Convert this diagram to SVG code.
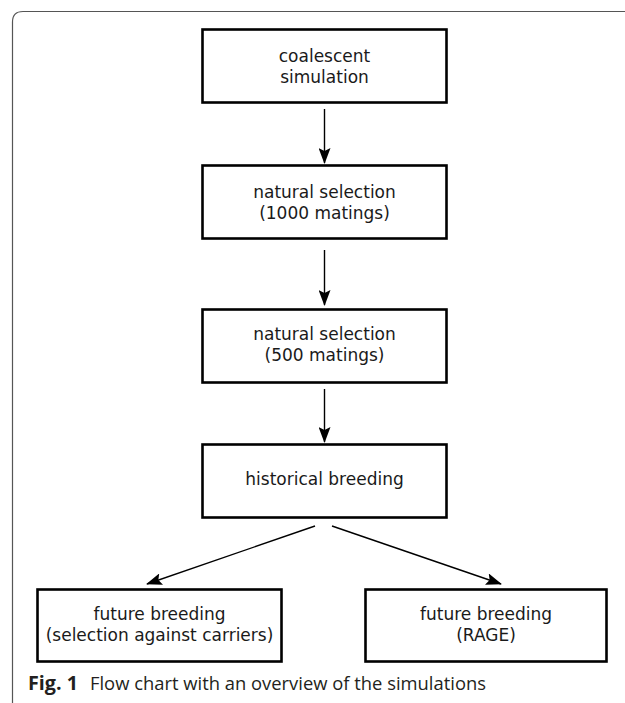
<svg xmlns="http://www.w3.org/2000/svg" width="625" height="703" viewBox="0 0 625 703">
<style>
.box{fill:#fff;stroke:#000;stroke-width:2.6}
.lbl{font-family:"DejaVu Sans",sans-serif;font-size:17px;fill:#1a1a1a;text-anchor:middle}
.con{stroke:#000;stroke-width:1.4;fill:none}
.cap{font-family:"Open Sans","Noto Sans",sans-serif;font-size:19px;fill:#231f20}
</style>
<defs>
<marker id="ah" viewBox="0 0 16 12" markerWidth="16" markerHeight="12" refX="15" refY="6" orient="auto" markerUnits="userSpaceOnUse">
<path d="M0,0 L16,6 L0,12 L3,6 Z" fill="#000"/>
</marker>
</defs>
<rect width="625" height="703" fill="#fff"/>
<path d="M12.5,703 L12.5,22 Q12.5,11.5 23,11.5 L625,11.5" fill="none" stroke="#555" stroke-width="1.2"/>
<g id="connectors">
<line class="con" x1="324.5" y1="109" x2="324.5" y2="163" marker-end="url(#ah)"/>
<line class="con" x1="324.5" y1="250" x2="324.5" y2="305" marker-end="url(#ah)"/>
<line class="con" x1="324.5" y1="389" x2="324.5" y2="442" marker-end="url(#ah)"/>
<line class="con" x1="315" y1="526" x2="147" y2="584" marker-end="url(#ah)"/>
<line class="con" x1="332" y1="526" x2="501" y2="584" marker-end="url(#ah)"/>
</g>
<g id="n1">
<rect class="box" x="202.5" y="29.5" width="244" height="73"/>
<text class="lbl" x="324.5" y="62">coalescent</text>
<text class="lbl" x="324.5" y="83">simulation</text>
</g>
<g id="n2">
<rect class="box" x="202.5" y="165.5" width="244" height="73"/>
<text class="lbl" x="324.5" y="198">natural selection</text>
<text class="lbl" x="324.5" y="219">(1000 matings)</text>
</g>
<g id="n3">
<rect class="box" x="202.5" y="309.5" width="244" height="73"/>
<text class="lbl" x="324.5" y="340">natural selection</text>
<text class="lbl" x="324.5" y="361">(500 matings)</text>
</g>
<g id="n4">
<rect class="box" x="202.5" y="444.5" width="244" height="73"/>
<text class="lbl" x="324.5" y="485">historical breeding</text>
</g>
<g id="n5">
<rect class="box" x="37.5" y="589.5" width="244" height="72"/>
<text class="lbl" x="159.5" y="620">future breeding</text>
<text class="lbl" x="159.5" y="641">(selection against carriers)</text>
</g>
<g id="n6">
<rect class="box" x="365.5" y="589.5" width="241" height="72"/>
<text class="lbl" x="486" y="620">future breeding</text>
<text class="lbl" x="486" y="641">(RAGE)</text>
</g>
<g id="caption">
<text class="cap" x="28" y="690" font-weight="bold" textLength="50" lengthAdjust="spacingAndGlyphs">Fig. 1</text>
<text class="cap" x="90" y="690" textLength="396" lengthAdjust="spacingAndGlyphs">Flow chart with an overview of the simulations</text>
</g>
</svg>
